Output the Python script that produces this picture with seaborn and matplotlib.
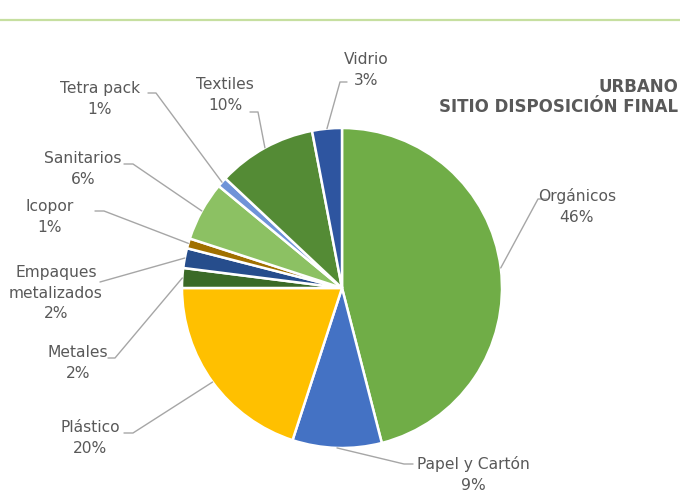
import numpy as np
import matplotlib
matplotlib.use("Agg")
import matplotlib.pyplot as plt
import seaborn as sns

# ---- data ----
categories = ["Orgánicos", "Papel y Cartón", "Plástico", "Metales", "Empaques\nmetalizados",
              "Icopor", "Sanitarios", "Tetra pack", "Textiles", "Vidrio"]
values = [46, 9, 20, 2, 2, 1, 6, 1, 10, 3]
colors = ["#70AD47", "#4472C4", "#FFC000", "#3B6A27", "#264D8C",
          "#A07000", "#8CC163", "#6F93D8", "#548B35", "#2E55A0"]
title_lines = ["URBANO", "SITIO DISPOSICIÓN FINAL"]

# ---- layout (pixel coords, y down) ----
W, H = 680, 493
CX, CY, R = 342, 288, 160
label_pos = {  # text centre, knee point, start point near text
    "Orgánicos": ((577, 206), (538, 199), (547, 199)),
    "Papel y Cartón": ((473, 474), (404, 464), (413, 464)),
    "Plástico": ((90, 438), (133, 433), (124, 433)),
    "Metales": ((78, 363), (115, 358), (108, 358)),
    "Empaques\nmetalizados": ((56, 293), (100, 282), (100, 282)),
    "Icopor": ((50, 217), (104, 211), (95, 211)),
    "Sanitarios": ((83, 169), (133, 164), (124, 164)),
    "Tetra pack": ((100, 99), (156, 93), (148, 93)),
    "Textiles": ((225, 95), (258, 112), (250, 112)),
    "Vidrio": ((366, 70), (340, 82), (347, 82)),
}

sns.set_theme(style="white")
plt.rcParams['font.family'] = ['DejaVu Sans']

fig = plt.figure(figsize=(W / 100, H / 100), dpi=100)
fig.patch.set_facecolor("#FFFFFF")
ax = fig.add_axes([0, 0, 1, 1])

def fy(y):
    return H - y

wedges, _ = ax.pie(values, colors=colors, startangle=90, counterclock=False,
                   center=(CX, fy(CY)), radius=R,
                   wedgeprops=dict(edgecolor="white", linewidth=1.8))
ax.set_xlim(0, W)
ax.set_ylim(0, H)
ax.set_aspect("equal")
ax.axis("off")

# top decorative green rule
ax.plot([0, W], [fy(20), fy(20)], color="#C6DFA0", lw=1.6, solid_capstyle="butt")

total = float(sum(values))
cum = 0.0
for cat, v in zip(categories, values):
    mid = (cum + v / 2) / total * 360.0
    cum += v
    ang = np.deg2rad(mid)
    ax_x = CX + R * np.sin(ang)
    ax_y = CY - R * np.cos(ang)
    (tx, ty), knee, start = label_pos[cat]
    pct = f"{int(round(v / total * 100))}%"
    ax.plot([ax_x, knee[0], start[0]], [fy(ax_y), fy(knee[1]), fy(start[1])],
            color="#A6A6A6", lw=1.0, zorder=1)
    ax.text(tx, fy(ty), f"{cat}\n{pct}", ha="center", va="center",
            fontsize=11.2, color="#595959", linespacing=1.5)

ax.text(678, fy(97), "\n".join(title_lines), ha="right", va="center",
        fontsize=12, fontweight="bold", color="#595959", linespacing=1.2)

fig.savefig("out.png", dpi=100)
